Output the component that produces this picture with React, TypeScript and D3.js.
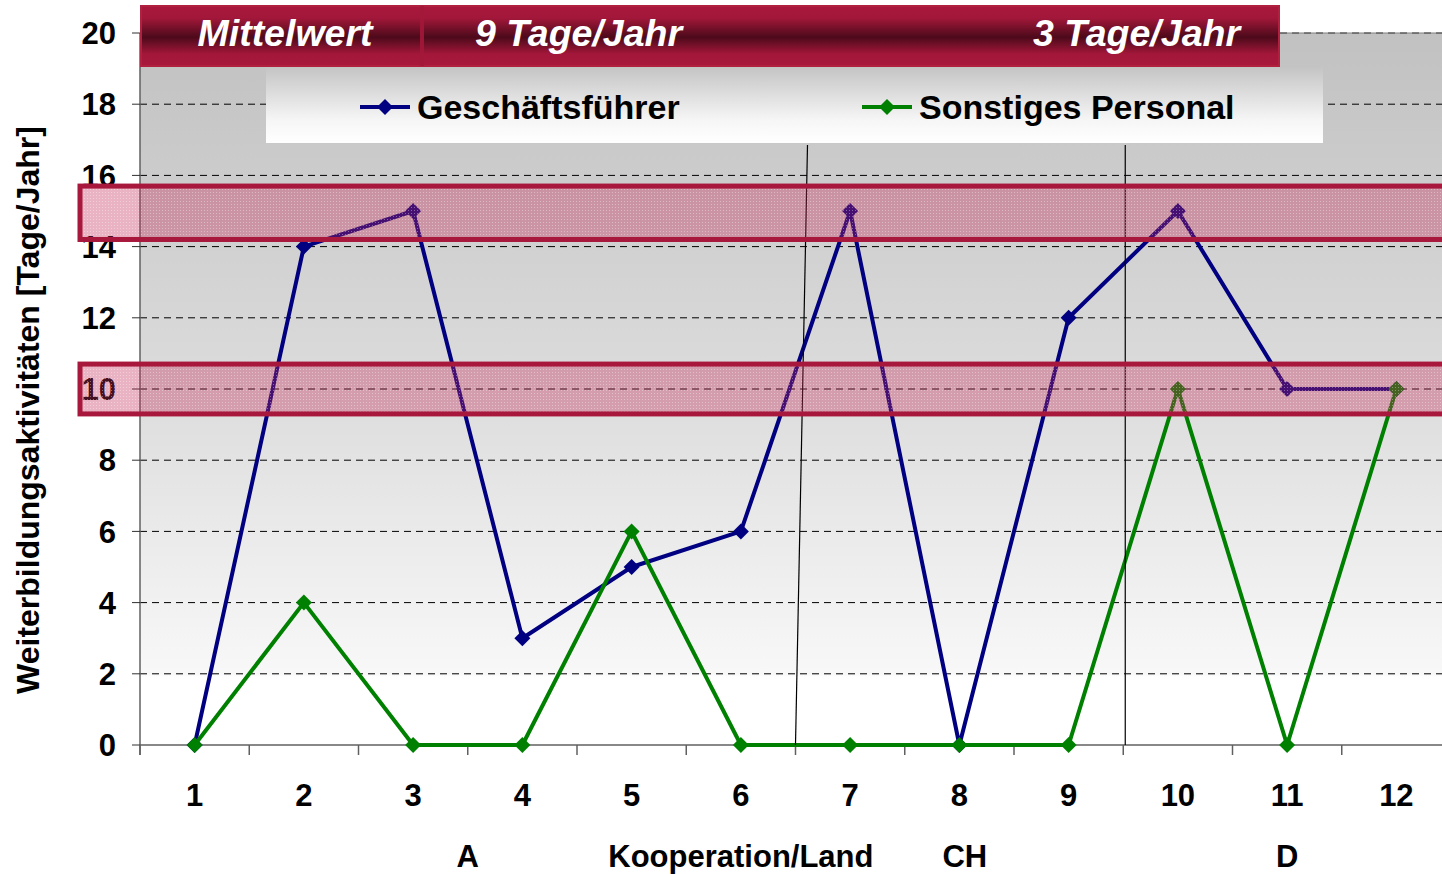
import React from "react";
import * as d3 from "d3";

const categories = ["1", "2", "3", "4", "5", "6", "7", "8", "9", "10", "11", "12"];
const geschaeftsfuehrer = [0, 14, 15, 3, 5, 6, 15, 0, 12, 15, 10, 10];
const sonstiges = [0, 4, 0, 0, 6, 0, 0, 0, 0, 10, 0, 10];
const yTicks = [0, 2, 4, 6, 8, 10, 12, 14, 16, 18, 20];
// position in category units (1 = centre of first category)
const countryLabels = [
  { label: "A", at: 3.5 },
  { label: "Kooperation/Land", at: 6 },
  { label: "CH", at: 8.05 },
  { label: "D", at: 11 },
];
const headerTexts = ["Mittelwert", "9 Tage/Jahr", "3 Tage/Jahr"];
const legendNames = ["Geschäftsführer", "Sonstiges Personal"];
const bands = [
  [14.2, 15.7],
  [9.3, 10.7],
];
// separator lines after category index (boundary), top skew in px
const separators = [
  { after: 6, skew: 12 },
  { after: 9, skew: 2 },
];

const W = 1442;
const H = 874;
const left = 140;
const right = 1451;
const top = 33;
const bottom = 745;
const font = "'Liberation Sans', Arial, Helvetica, sans-serif";

export default function App() {
  const x = d3.scaleBand<string>().domain(categories).range([left, right]);
  const y = d3.scaleLinear().domain([0, 20]).range([bottom, top]);
  const cx = (i: number) => (x(categories[i]) as number) + x.bandwidth() / 2;
  const bx = (k: number) => left + k * x.bandwidth();
  const px = (p: number) => left + (p - 0.5) * x.bandwidth();

  const line = d3
    .line<number>()
    .x((_, i) => cx(i))
    .y((d) => y(d));

  const diamond = (qx: number, qy: number, r = 8) =>
    `M${qx},${qy - r}L${qx + r},${qy}L${qx},${qy + r}L${qx - r},${qy}Z`;

  const series = [
    { name: legendNames[0], values: geschaeftsfuehrer, color: "#000080" },
    { name: legendNames[1], values: sonstiges, color: "#008000" },
  ];

  return (
    <svg width={W} height={H} style={{ position: "absolute", left: 0, top: 0, background: "#fff" }}>
      <defs>
        <linearGradient id="bg" x1="0" y1="0" x2="0" y2="1">
          <stop offset="0" stopColor="#c1c1c1" />
          <stop offset="0.5" stopColor="#dcdcdc" />
          <stop offset="0.9" stopColor="#f8f8f8" />
          <stop offset="0.905" stopColor="#ffffff" />
          <stop offset="1" stopColor="#ffffff" />
        </linearGradient>
        <linearGradient id="hdr" x1="0" y1="0" x2="0" y2="1">
          <stop offset="0" stopColor="#a8183c" />
          <stop offset="0.2" stopColor="#a3173a" />
          <stop offset="0.52" stopColor="#4c0a1a" />
          <stop offset="0.8" stopColor="#a3173a" />
          <stop offset="1" stopColor="#a8183c" />
        </linearGradient>
        <linearGradient id="leg" x1="0" y1="0" x2="0" y2="1">
          <stop offset="0" stopColor="#c4c4c4" />
          <stop offset="0.7" stopColor="#f6f6f6" />
          <stop offset="1" stopColor="#ffffff" />
        </linearGradient>
        <pattern id="dots" width="3" height="3" patternUnits="userSpaceOnUse">
          <rect width="3" height="3" fill="rgba(195,45,90,0.36)" />
          <rect width="1" height="1" fill="rgba(255,255,255,0.35)" />
        </pattern>
      </defs>

      {/* plot background */}
      <rect x={left} y={top} width={right - left} height={bottom - top} fill="url(#bg)" />

      {/* gridlines */}
      {yTicks
        .filter((t) => t > 0)
        .map((t) => (
          <line
            key={"g" + t}
            x1={left}
            x2={right}
            y1={y(t)}
            y2={y(t)}
            stroke="#000"
            strokeWidth={1}
            strokeDasharray="7,5"
          />
        ))}
      <line x1={left} x2={right} y1={top} y2={top} stroke="#808080" strokeWidth={1} />

      {/* axes */}
      <line x1={left} x2={left} y1={top} y2={bottom + 10} stroke="#606060" strokeWidth={1.5} />
      <line x1={left} x2={right} y1={bottom} y2={bottom} stroke="#606060" strokeWidth={1.5} />
      {yTicks.map((t) => (
        <line key={"yt" + t} x1={left - 8} x2={left} y1={y(t)} y2={y(t)} stroke="#303030" strokeWidth={1} />
      ))}
      {d3.range(0, categories.length + 1).map((k) => (
        <line key={"xt" + k} x1={bx(k)} x2={bx(k)} y1={bottom} y2={bottom + 10} stroke="#606060" strokeWidth={1.5} />
      ))}

      {/* y tick labels */}
      {yTicks.map((t) => (
        <text
          key={"yl" + t}
          x={116}
          y={y(t)}
          dy="0.36em"
          textAnchor="end"
          fontFamily={font}
          fontWeight="bold"
          fontSize={31}
          fill="#000"
        >
          {t}
        </text>
      ))}

      {/* x tick labels */}
      {categories.map((c, i) => (
        <text
          key={"xl" + c}
          x={cx(i)}
          y={806}
          textAnchor="middle"
          fontFamily={font}
          fontWeight="bold"
          fontSize={31}
          fill="#000"
        >
          {c}
        </text>
      ))}

      {/* country labels */}
      {countryLabels.map((l) => (
        <text
          key={l.label}
          x={px(l.at)}
          y={867}
          textAnchor="middle"
          fontFamily={font}
          fontWeight="bold"
          fontSize={31}
          fill="#000"
        >
          {l.label}
        </text>
      ))}

      {/* y axis title */}
      <text
        transform={`translate(39,410) rotate(-90)`}
        textAnchor="middle"
        fontFamily={font}
        fontWeight="bold"
        fontSize={32}
        fill="#000"
      >
        Weiterbildungsaktivitäten [Tage/Jahr]
      </text>

      {/* series */}
      {series.map((s) => (
        <g key={s.name}>
          <path d={line(s.values) || ""} fill="none" stroke={s.color} strokeWidth={4} strokeLinejoin="round" />
          {s.values.map((v, i) => (
            <path key={i} d={diamond(cx(i), y(v))} fill={s.color} />
          ))}
        </g>
      ))}

      {/* separators */}
      {separators.map((s) => (
        <line
          key={"sep" + s.after}
          x1={bx(s.after) + s.skew}
          y1={145}
          x2={bx(s.after) + (s.skew > 5 ? 0 : s.skew)}
          y2={bottom}
          stroke="#000"
          strokeWidth={1.2}
        />
      ))}

      {/* highlight bands */}
      {bands.map(([lo, hi], i) => (
        <rect
          key={"band" + i}
          x={80}
          y={y(hi)}
          width={W - 80 + 20}
          height={y(lo) - y(hi)}
          fill="url(#dots)"
          stroke="#a8173c"
          strokeWidth={5}
        />
      ))}

      {/* header banner */}
      <rect x={141} y={6} width={1138} height={60} fill="url(#hdr)" stroke="#b0203f" strokeWidth={2} />
      <rect x={420} y={6} width={4} height={60} fill="#a3173a" opacity={0.9} />
      <text x={285} y={46} textAnchor="middle" fontFamily={font} fontWeight="bold" fontStyle="italic" fontSize={37.5} fill="#fff">
        {headerTexts[0]}
      </text>
      <text x={475} y={46} textAnchor="start" fontFamily={font} fontWeight="bold" fontStyle="italic" fontSize={37.5} fill="#fff">
        {headerTexts[1]}
      </text>
      <text x={1240} y={46} textAnchor="end" fontFamily={font} fontWeight="bold" fontStyle="italic" fontSize={37.5} fill="#fff">
        {headerTexts[2]}
      </text>

      {/* legend */}
      <rect x={266} y={67} width={1057} height={76} fill="url(#leg)" />
      {series.map((s, i) => {
        const lx = i === 0 ? 360 : 862;
        return (
          <g key={"leg" + i}>
            <line x1={lx} x2={lx + 50} y1={107} y2={107} stroke={s.color} strokeWidth={4} />
            <path d={diamond(lx + 25, 107)} fill={s.color} />
            <text x={lx + 57} y={119} fontFamily={font} fontWeight="bold" fontSize={34} fill="#000">
              {s.name}
            </text>
          </g>
        );
      })}
    </svg>
  );
}
